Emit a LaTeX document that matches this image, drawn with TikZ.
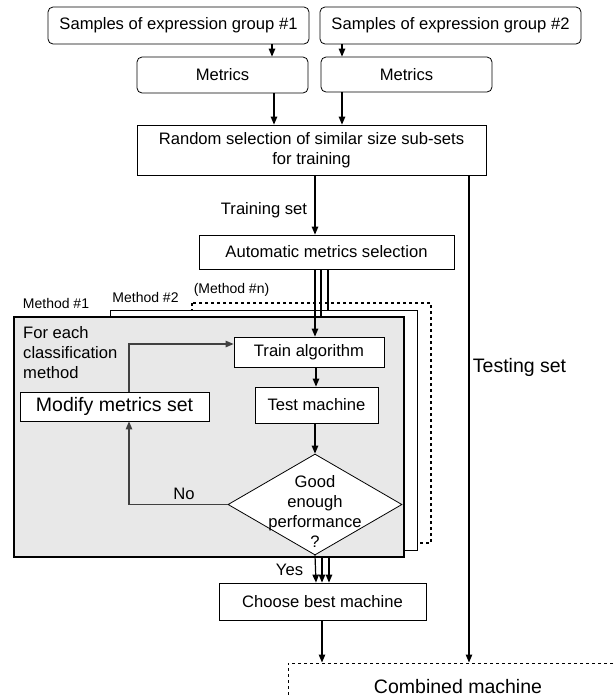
\documentclass[tikz,border=0pt]{standalone}
\usepackage{fontspec}
\setmainfont{Liberation Sans}
\usetikzlibrary{arrows.meta,shapes.geometric}
\definecolor{panel}{HTML}{E8E8E8}
\tikzset{
  x=1pt,y=-1pt,
  every node/.style={font=\fontsize{16.6}{20}\selectfont, inner sep=0pt},
  rbox/.style={draw, line width=0.8pt, rounded corners=5pt},
  sbox/.style={draw, line width=0.8pt, fill=white},
  arr/.style={line width=1.2pt, -{Triangle[length=8pt,width=6.5pt]}},
  ln/.style={line width=1.2pt},
  small/.style={font=\fontsize{14}{16}\selectfont},
  big/.style={font=\fontsize{19.5}{23}\selectfont},
}
\begin{document}
\begin{tikzpicture}
\useasboundingbox (0,0) rectangle (614,697);
\clip (0,0) rectangle (614,697);
% top boxes
\node[rbox, minimum width=261pt, minimum height=37pt] (g1) at (178.5,25.5) {Samples of expression group \#1};
\node[rbox, minimum width=261pt, minimum height=37pt] (g2) at (450.5,25.5) {Samples of expression group \#2};
\node[rbox, minimum width=171pt, minimum height=36pt] (m1) at (222.5,75) {Metrics};
\node[rbox, minimum width=171pt, minimum height=35pt] (m2) at (406.5,74.5) {Metrics};
\node[sbox, minimum width=349pt, minimum height=50pt, align=center] (rnd) at (311.5,150) {Random selection of similar size sub-sets\\for training};
\node[sbox, minimum width=255pt, minimum height=34pt] (ams) at (326.5,252) {Automatic metrics selection};
% method stack
\draw[line width=1.1pt, dashed, fill=white] (192,303) rectangle (431,543);
\node[draw, line width=0.8pt, fill=white, minimum width=307pt, minimum height=240pt] (mb2) at (263.5,430) {};
\node[draw, line width=1.3pt, fill=panel, minimum width=390pt, minimum height=240pt] (mb1) at (209,437) {};
\node[small] (lm1) at (56,303) {Method \#1};
\node[small] (lm2) at (145.5,297) {Method \#2};
\node[small] (lmn) at (231.5,290) {(Method \#n)};
% inner
\node[sbox, minimum width=150pt, minimum height=30pt] (train) at (309,352) {Train algorithm};
\node[sbox, minimum width=123pt, minimum height=36pt] (test) at (316.5,405) {Test machine};
\node[sbox, big, minimum width=189pt, minimum height=29pt] (modify) at (114.5,406.5) {Modify metrics set};
\node[align=left, anchor=north west] (fe) at (23,326) {For each\\classification\\method};
\node[draw, line width=0.8pt, fill=white, diamond, minimum width=174pt, minimum height=101pt] (dia) at (315,504.5) {};
\node[align=center] (dtext) at (315,511) {Good\\enough\\performance\\?};
\node (no) at (184,494) {No};
\node (yes) at (289.5,570) {Yes};
\node[sbox, minimum width=207pt, minimum height=37pt] (choose) at (322.5,601.5) {Choose best machine};
\node[draw, line width=1pt, dashed, big, minimum width=340pt, minimum height=47pt] (comb) at (458,686.5) {Combined machine};
\node (trs) at (264,210) {Training set};
\node[big] (tes) at (519.5,367) {Testing set};
% coordinates for vertical lines
\coordinate (x272) at (272,0);
\coordinate (x342) at (342,0);
\coordinate (x274) at (274,0);
\coordinate (x315) at (315,0);
\coordinate (x316) at (316,0);
\coordinate (x321) at (321,0);
\coordinate (x322) at (322,0);
\coordinate (x328) at (328,0);
\coordinate (x329) at (329,0);
\coordinate (x469) at (469,0);
\coordinate (x129) at (129,0);
% connectors
\draw[arr] (x272 |- g1.south) -- (x272 |- m1.north);
\draw[arr] (x342 |- g2.south) -- (x342 |- m2.north);
\draw[arr] (x274 |- m1.south) -- (x274 |- rnd.north);
\draw[arr] (x342 |- m2.south) -- (x342 |- rnd.north);
\draw[arr] (x315 |- rnd.south) -- (x315 |- ams.north);
\draw[arr] (x469 |- rnd.south) -- (x469 |- comb.north);
\draw[arr] (x315 |- ams.south) -- (x315 |- train.north);
\draw[ln] (x321 |- ams.south) -- (x321 |- mb1.north);
\draw[ln] (x328 |- ams.south) -- (x328 |- mb2.north);
\draw[arr] (x316 |- train.south) -- (x316 |- test.north);
\draw[arr] (x315 |- test.south) -- (dia.north);
\draw[arr, draw=black!75] (x129 |- modify.north) |- ([yshift=8pt]train.west);
\draw[arr, draw=black!75] (dia.west) -| (x129 |- modify.south);
\draw[arr] (dia.south) -- (x316 |- choose.north);
\draw[arr] (x322 |- mb1.south) -- (x322 |- choose.north);
\draw[arr] (x329 |- mb1.south) -- (x329 |- choose.north);
\draw[arr] (x322 |- choose.south) -- (x322 |- comb.north);
\end{tikzpicture}
\end{document}
